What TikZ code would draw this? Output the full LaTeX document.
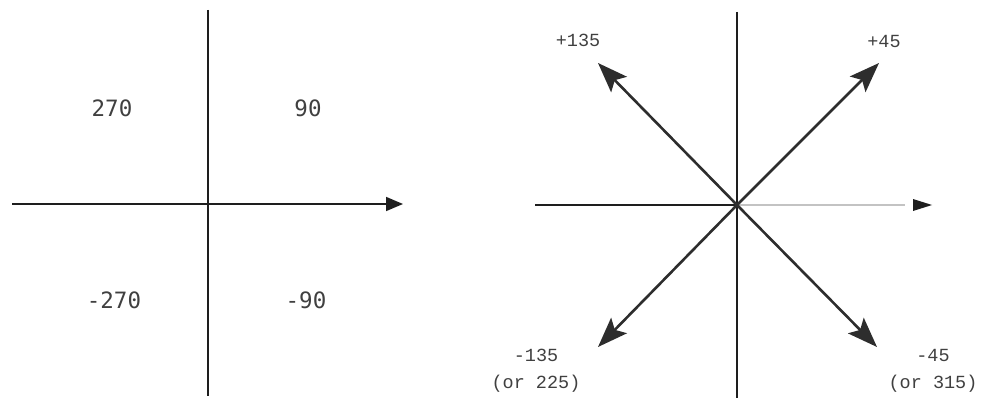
\documentclass[tikz,border=0pt]{standalone}
\usepackage{fontspec}
\usetikzlibrary{arrows.meta}
\newfontfamily\quadmono{DejaVu Sans Mono}
\newfontfamily\dirmono{Liberation Mono}
\definecolor{ink}{RGB}{30,30,30}
\definecolor{vane}{RGB}{45,45,45}
\definecolor{faint}{RGB}{195,195,195}
\tikzset{
  axis/.style={draw=ink,line width=1.6pt},
  axis tip/.style={-{Triangle[length=17pt,width=14pt]}},
  vane/.style={draw=vane,line width=2.6pt,-{Stealth[length=30pt,width=22pt,inset=6pt]}},
  quad/.style={font=\quadmono\fontsize{22.5}{24}\selectfont,text=ink!85,inner sep=0pt},
  dir/.style={font=\dirmono\fontsize{18.5}{27}\selectfont,text=ink!85,align=center,inner sep=0pt},
}
\begin{document}
\begin{tikzpicture}[x=1pt,y=-1pt]
  \useasboundingbox (0,0) rectangle (983,404);
  % left: quadrants
  \coordinate (lo) at (208,204);
  \coordinate (ltop) at (208,10);
  \coordinate (lbot) at (208,396);
  \coordinate (lleft) at (12,204);
  \coordinate (lright) at (403,204);
  \draw[axis] (ltop) -- (lbot);
  \draw[axis,axis tip] (lleft) -- (lright);
  \node[quad] (q270) at (112,108) {270};
  \node[quad] (q90) at (308,108) {90};
  \node[quad] (qm270) at (114,300) {-270};
  \node[quad] (qm90) at (306,300) {-90};
  % right: directions
  \coordinate (ro) at (737,205);
  \coordinate (rtop) at (737,12);
  \coordinate (rbot) at (737,398);
  \coordinate (rleft) at (535,205);
  \coordinate (rright) at (905,205);
  \draw[axis] (rtop) -- (rbot);
  \draw[axis] (rleft) -- (ro);
  \draw[draw=faint,line width=1.2pt] (ro) -- (rright);
  \fill[ink] (913,199) -- (932,205) -- (913,211) -- cycle;
  \coordinate (p45) at (879,63);
  \coordinate (p135) at (598,63);
  \coordinate (m135) at (598,347);
  \coordinate (m45) at (877,347);
  \foreach \tip in {p45,p135,m135,m45}
    \draw[vane] (ro) -- (\tip);
  \node[dir] (lp135) at (578,40) {+135};
  \node[dir] (lp45) at (884,41) {+45};
  \node[dir] (lm135) at (536,371) {-135\\(or 225)};
  \node[dir] (lm45) at (933,371) {-45\\(or 315)};
\end{tikzpicture}
\end{document}
